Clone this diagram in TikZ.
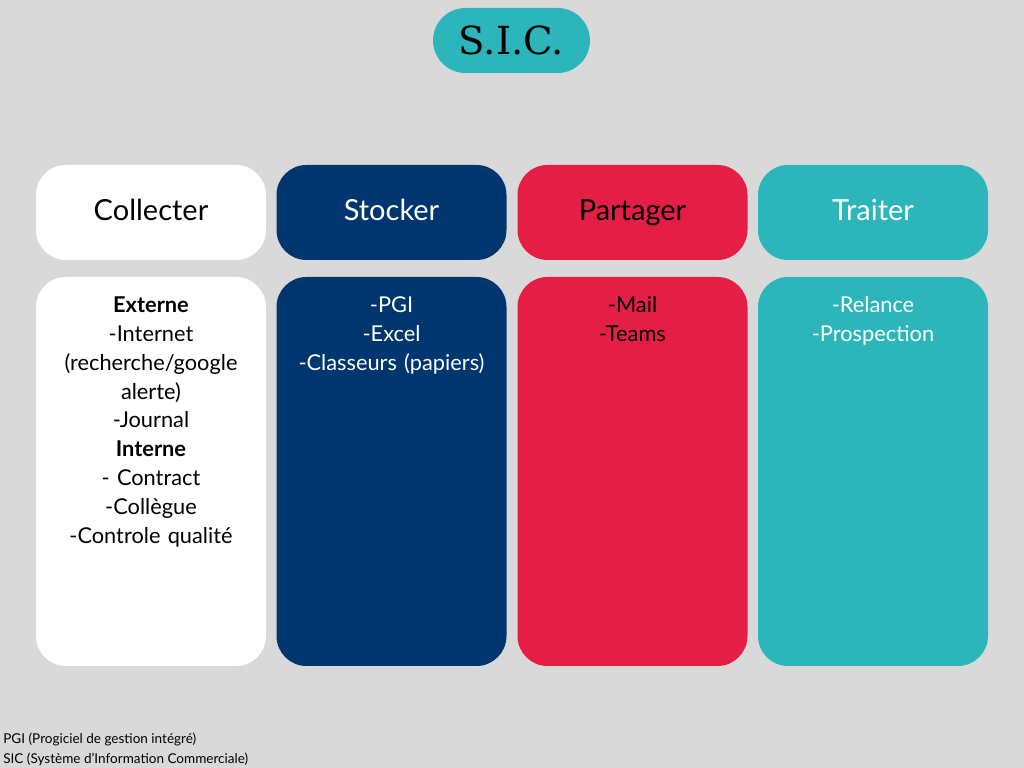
\documentclass[tikz,border=0pt]{standalone}
\usepackage{fontspec}
\setmainfont{Lato}
\newfontfamily\titlefont{DejaVu Serif}
\usetikzlibrary{positioning}

\definecolor{bggray}{HTML}{D9D9D9}
\definecolor{sicteal}{HTML}{2CB6BB}
\definecolor{sicnavy}{HTML}{00366F}
\definecolor{sicred}{HTML}{E51E45}

\begin{document}
\begin{tikzpicture}[
    head/.style={rounded corners=0.6cm, minimum width=4.6cm, minimum height=1.9cm,
        inner sep=0pt, text height=12.7pt, text depth=3.5pt,
        font=\fontsize{16.5}{19}\selectfont},
    panel/.style={rounded corners=0.6cm, minimum width=4.6cm, minimum height=7.78cm,
        inner sep=0pt},
    items/.style={anchor=north, align=center, text width=4.5cm,
        font=\fontsize{12.4}{16.4}\selectfont}
]

    % Background
    \fill[bggray] (0,0) rectangle (20.48,15.36);

    % Title
    \node[fill=sicteal, rounded corners=0.65cm, minimum width=3.14cm, minimum height=1.3cm,
        font=\titlefont\fontsize{22}{26}\selectfont] (title) at (10.23,14.55) {S.I.C.};

    % Column headers
    \node[head, fill=white] (collecter) at (3.02,11.11) {Collecter};
    \node[head, fill=sicnavy, text=white] (stocker) at (7.83,11.11) {Stocker};
    \node[head, fill=sicred] (partager) at (12.65,11.11) {Partager};
    \node[head, fill=sicteal, text=white] (traiter) at (17.46,11.11) {Traiter};

    % Column panels
    \node[panel, fill=white] (pcollecter) at (3.02,5.93) {};
    \node[panel, fill=sicnavy] (pstocker) at (7.83,5.93) {};
    \node[panel, fill=sicred] (ppartager) at (12.65,5.93) {};
    \node[panel, fill=sicteal] (ptraiter) at (17.46,5.93) {};

    % Panel contents
    \node[items] (tcollecter) at ([yshift=-0.28cm]pcollecter.north)
        {\textbf{Externe}\\-Internet\\(recherche/google\\alerte)\\-Journal\\
         \textbf{Interne}\\- Contract\\-Collègue\\-Controle qualité};
    \node[items, text=white] (tstocker) at ([yshift=-0.28cm]pstocker.north)
        {-PGI\\-Excel\\-Classeurs (papiers)};
    \node[items] (tpartager) at ([yshift=-0.28cm]ppartager.north)
        {-Mail\\-Teams};
    \node[items, text=white] (ttraiter) at ([yshift=-0.28cm]ptraiter.north)
        {-Relance\\-Prospection};

    % Footnotes
    \node[anchor=south west, align=left, inner sep=0pt,
        font=\fontsize{7.7}{11.3}\selectfont] (notes) at (0.06,0.03)
        {PGI (Progiciel de gestion intégré)\\SIC (Système d’Information Commerciale)};

\end{tikzpicture}
\end{document}
